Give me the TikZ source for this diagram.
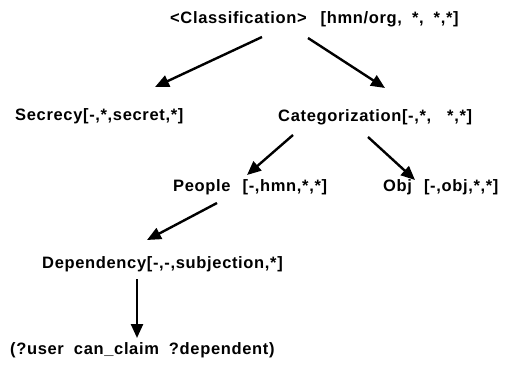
\documentclass[tikz,border=0pt]{standalone}
\usepackage{fontspec}
\setmainfont{Liberation Sans}[LetterSpace=4]
\usetikzlibrary{arrows.meta,calc}

\begin{document}
\begin{tikzpicture}[
        x=1pt, y=-1pt,
        lbl/.style={
            anchor=west,
            inner sep=0pt,
            font=\fontsize{16.5}{19}\selectfont\bfseries,
        },
        arr/.style={
            -{Triangle[length=14pt,width=12pt]},
            line width=2.4pt,
        },
    ]
        \useasboundingbox (0,0) rectangle (505,367);

        \node [lbl] (class) at (170,19) {<Classification>\hspace{14pt}[hmn/org,\hspace{10pt}*,\hspace{10pt}*,*]};
        \node [lbl] (secrecy) at (15,116) {Secrecy[-,*,secret,*]};
        \node [lbl] (categ) at (278,117) {Categorization[-,*,\hspace{16pt}*,*]};
        \node [lbl] (people) at (173,187) {People\hspace{12pt}[-,hmn,*,*]};
        \node [lbl] (obj) at (383,187) {Obj\hspace{12pt}[-,obj,*,*]};
        \node [lbl] (dep) at (42,264) {Dependency[-,-,subjection,*]};
        \node [lbl] (claim) at (10,350) {(?user\hspace{10pt}can\_claim\hspace{10pt}?dependent)};

        \draw [arr] ($(class.west)+(92,18)$) -- ($(secrecy.west)+(140,-29)$);
        \draw [arr] ($(class.west)+(138,19)$) -- ($(categ.west)+(107,-29)$);
        \draw [arr] ($(categ.west)+(15,18)$) -- ($(people.west)+(74,-12)$);
        \draw [arr] ($(categ.west)+(90,20)$) -- ($(obj.west)+(32,-7)$);
        \draw [arr] ($(people.west)+(44,16)$) -- ($(dep.west)+(105,-24)$);
        \draw [arr] ($(dep.west)+(95,15)$) -- ($(claim.west)+(127,-12)$);
\end{tikzpicture}
\end{document}
